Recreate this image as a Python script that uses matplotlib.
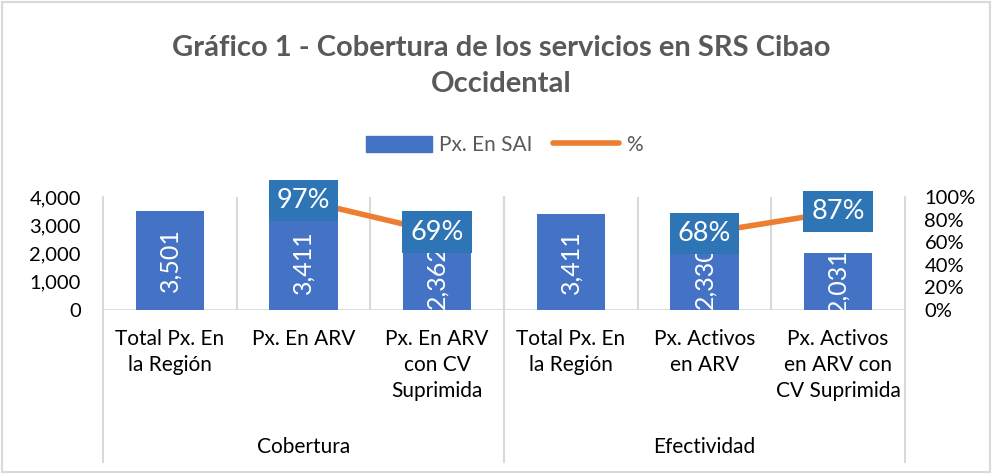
import numpy as np
import matplotlib
matplotlib.use("Agg")
import matplotlib.pyplot as plt
from matplotlib.patches import Patch, Rectangle
from matplotlib.lines import Line2D

plt.rcParams["font.family"] = ["Lato", "DejaVu Sans"]

categories = [
    "Total Px. En\nla Región",
    "Px. En ARV",
    "Px. En ARV\ncon CV\nSuprimida",
    "Total Px. En\nla Región",
    "Px. Activos\nen ARV",
    "Px. Activos\nen ARV con\nCV Suprimida",
]
groups = ["Cobertura", "Efectividad"]
group_sizes = [3, 3]
px_sai = [3501, 3411, 2362, 3411, 2330, 2031]
pct = [np.nan, 0.97, 0.69, np.nan, 0.68, 0.87]

BLUE = "#4472C4"
ORANGE = "#ED7D31"
BOX = "#2E75B6"
GRID = "#D9D9D9"
GREY = "#595959"

W, H = 992, 474
fig = plt.figure(figsize=(W / 100, H / 100), dpi=100)
left, right, bottom, top = 103, 905, 310, 197
ax = fig.add_axes([left / W, 1 - bottom / H, (right - left) / W, (bottom - top) / H])
ax2 = ax.twinx()

x = np.arange(len(categories))
bars = ax.bar(x, px_sai, width=0.51, color=BLUE, zorder=2)
for xi, v, b in zip(x, px_sai, bars):
    t = ax.text(xi, v / 2, f"{v:,}", rotation=90, ha="center", va="center",
                color="white", fontsize=18, zorder=3)
    t.set_clip_path(b)

ax.set_xlim(-0.5, len(categories) - 0.5)
ax.set_ylim(0, 4000)
ax.set_yticks([0, 1000, 2000, 3000, 4000])
ax.set_yticklabels([f"{t:,}" for t in [0, 1000, 2000, 3000, 4000]])
ax.set_xticks([])
ax.tick_params(axis="y", length=0, pad=16, labelsize=14.5)
for s in ax.spines.values():
    s.set_visible(False)
for xb in np.arange(0.5, len(categories) - 1, 1):
    ax.axvline(xb, color=GRID, lw=1.5, zorder=1)
ax.axhline(0, color=GRID, lw=2, zorder=1)

ax2.plot(x, pct, color=ORANGE, lw=4, solid_capstyle="round", zorder=2)
for xi, p in zip(x, pct):
    if not np.isnan(p):
        ax2.text(xi, p, f"{p:.0%}", ha="center", va="center", color="white",
                 fontsize=19.5, zorder=4,
                 bbox=dict(boxstyle="square,pad=0.3", fc=BOX, ec="none"))
ax2.set_ylim(0, 1)
ax2.set_yticks(np.arange(0, 1.01, 0.2))
ax2.set_yticklabels([f"{int(round(t * 100))}%" for t in np.arange(0, 1.01, 0.2)])
ax2.tick_params(axis="y", length=0, pad=14, labelsize=14.5)
for s in ax2.spines.values():
    s.set_visible(False)

# multi-level category axis
cat_w = (right - left) / len(categories)
for i, c in enumerate(categories):
    fig.text((left + cat_w * (i + 0.5)) / W, 1 - 329 / H, c, ha="center", va="top",
             fontsize=15, linespacing=1.38, multialignment="center")
start = 0
for g, n in zip(groups, group_sizes):
    fig.text((left + cat_w * (start + n / 2)) / W, 1 - 447 / H, g, ha="center",
             va="center", fontsize=15)
    start += n
for xs in [left, left + cat_w * 3, right]:
    fig.add_artist(Line2D([xs / W, xs / W], [1 - top / H, 1 - 462 / H],
                          color=GRID, lw=1.5))

fig.text(0.505, 1 - 66 / H, "Gráfico 1 - Cobertura de los servicios en SRS Cibao\nOccidental",
         ha="center", va="center", fontsize=21, fontweight="bold", color=GREY,
         linespacing=1.5, multialignment="center")

handles = [Patch(color=BLUE, label="Px. En SAI"),
           Line2D([], [], color=ORANGE, lw=4, solid_capstyle="round", label="%")]
leg = fig.legend(handles=handles, loc="center", bbox_to_anchor=(0.508, 1 - 145 / H),
                 ncol=2, frameon=False, fontsize=15, handlelength=3.2, handleheight=0.8,
                 columnspacing=1.0, handletextpad=0.3)
for t in leg.get_texts():
    t.set_color(GREY)

fig.add_artist(Rectangle((2 / W, 2 / H), 1 - 4 / W, 1 - 4 / H, fill=False,
                         ec=GRID, lw=1.5, transform=fig.transFigure))

fig.savefig("out.png", dpi=100)
